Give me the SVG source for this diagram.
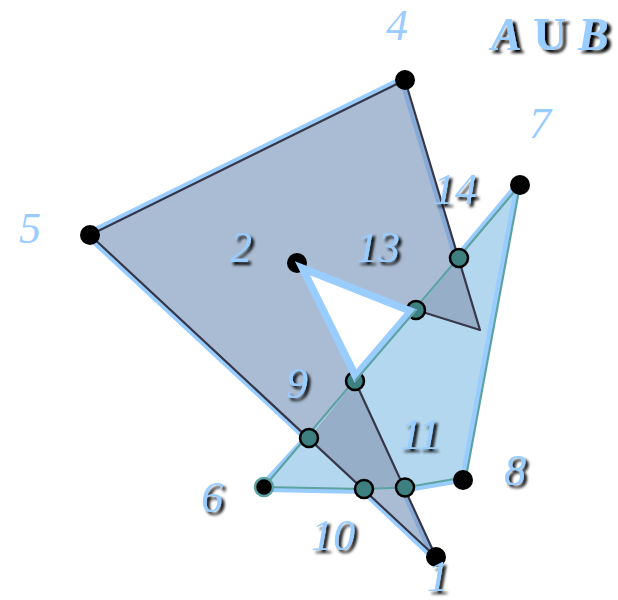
<svg xmlns="http://www.w3.org/2000/svg" width="618" height="600" viewBox="0 0 618 600">
<defs>
<filter id="sh" x="-20%" y="-20%" width="150%" height="150%">
<feDropShadow dx="3" dy="3" stdDeviation="1.4" flood-color="#000" flood-opacity="1"/>
</filter>
<filter id="sht" x="-20%" y="-20%" width="150%" height="150%">
<feDropShadow dx="4" dy="3" stdDeviation="1.6" flood-color="#000" flood-opacity="1"/>
</filter>
</defs>
<style>
.band{fill:none;stroke:#99ccff;stroke-width:10;stroke-linejoin:round;stroke-linecap:butt}
.inband{fill:none;stroke-width:4.5;stroke-linecap:butt}
.edgeA{fill:none;stroke:#36384a;stroke-width:2.2;stroke-linejoin:round}
.edgeB{fill:none;stroke:#5ea2a3;stroke-width:2.2;stroke-linejoin:round}
.v{fill:#000}
.x{fill:#3e7f80;stroke:#000;stroke-width:2.5}
.lbl{font-family:"Liberation Serif","Times New Roman",serif;font-style:italic;font-size:44px;fill:#99ccff;text-anchor:middle}
</style>
<rect width="618" height="600" fill="#fff"/>
<g id="connectors">
<path class="band" d="M309,438 L90,235 L405,80"/>
<path class="band" d="M459,258 L520,185"/>
<path class="band" d="M466,477 L405,487.5"/>
<path class="band" d="M436,557 L364,489 L264,487 L309,438"/>
<polygon id="polyA" points="90,235 405,80 480,330 416,310 297,263 355,381 436,557" fill="#aabcd3"/>
<polygon id="polyB" points="264,487 520,185 466,477 405,487.5 364,489" fill="#b3d7ee"/>
<polygon points="459,258 480,330 416,310" fill="#96aec7"/>
<polygon points="309,438 355,381 405,487.5 364,489" fill="#96aec7"/>
<path class="inband" stroke="#87a9d6" d="M401.8,81 L455.8,259"/>
<path class="inband" stroke="#99ccff" d="M516.8,184.4 L462.8,476.4"/>
<path class="inband" stroke="#87a9d6" d="M402,488.3 L433,558.3"/>
<polygon class="edgeB" points="264,487 520,185 466,477 405,487.5 364,489"/>
<polyline class="edgeA" points="90,235 405,80 480,330 416,310"/>
<polyline class="edgeA" points="355,381 436,557 90,235"/>
</g>
<g id="n4"><circle class="v" cx="405" cy="80" r="10"/><text class="lbl" x="397" y="40">4</text></g>
<g id="n5"><circle class="v" cx="90" cy="235" r="10"/><text class="lbl" x="30" y="243">5</text></g>
<g id="n7"><circle class="v" cx="520" cy="185" r="10"/><text class="lbl" x="540" y="138">7</text></g>
<g id="n8"><circle class="v" cx="463" cy="480" r="10"/><text class="lbl" x="515" y="485" filter="url(#sh)">8</text></g>
<g id="n1"><circle class="v" cx="436" cy="557" r="10"/><text class="lbl" x="438" y="591" filter="url(#sh)">1</text></g>
<g id="n6"><circle cx="264" cy="487" r="9" fill="#000" stroke="#5ea2a3" stroke-width="2.5"/><text class="lbl" x="212" y="512" filter="url(#sh)">6</text></g>
<g id="n2"><circle class="v" cx="297" cy="263" r="10"/><text class="lbl" x="241" y="262" filter="url(#sh)">2</text></g>
<g id="n14"><circle class="x" cx="459" cy="258" r="9"/><text class="lbl" x="455" y="204" filter="url(#sh)">14</text></g>
<g id="n13"><circle class="x" cx="416" cy="310" r="9"/><text class="lbl" x="378" y="262" filter="url(#sh)">13</text></g>
<g id="n9"><circle class="x" cx="355" cy="381" r="9"/><text class="lbl" x="297" y="398" filter="url(#sh)">9</text></g>
<g id="n12"><circle class="x" cx="309" cy="438" r="9"/></g>
<g id="n10"><circle class="x" cx="364" cy="489" r="9"/><text class="lbl" x="333" y="550" filter="url(#sh)">10</text></g>
<g id="n11"><circle class="x" cx="405" cy="487.5" r="9"/><text class="lbl" x="420" y="449" filter="url(#sh)">11</text></g>
<g id="hole">
<polygon points="302.5,268.3 411,311.2 355.5,376" fill="#fff" stroke="#99ccff" stroke-width="7.5" stroke-linejoin="miter"/>
<line x1="416" y1="310" x2="355" y2="381" stroke="#5ea2a3" stroke-width="2"/>
</g>
<g id="title" filter="url(#sht)">
<text x="491" y="50" font-family="'Liberation Serif','Times New Roman',serif" font-weight="bold" font-size="46" fill="#99ccff"><tspan font-style="italic">A</tspan> U <tspan font-style="italic">B</tspan></text>
</g>
</svg>
